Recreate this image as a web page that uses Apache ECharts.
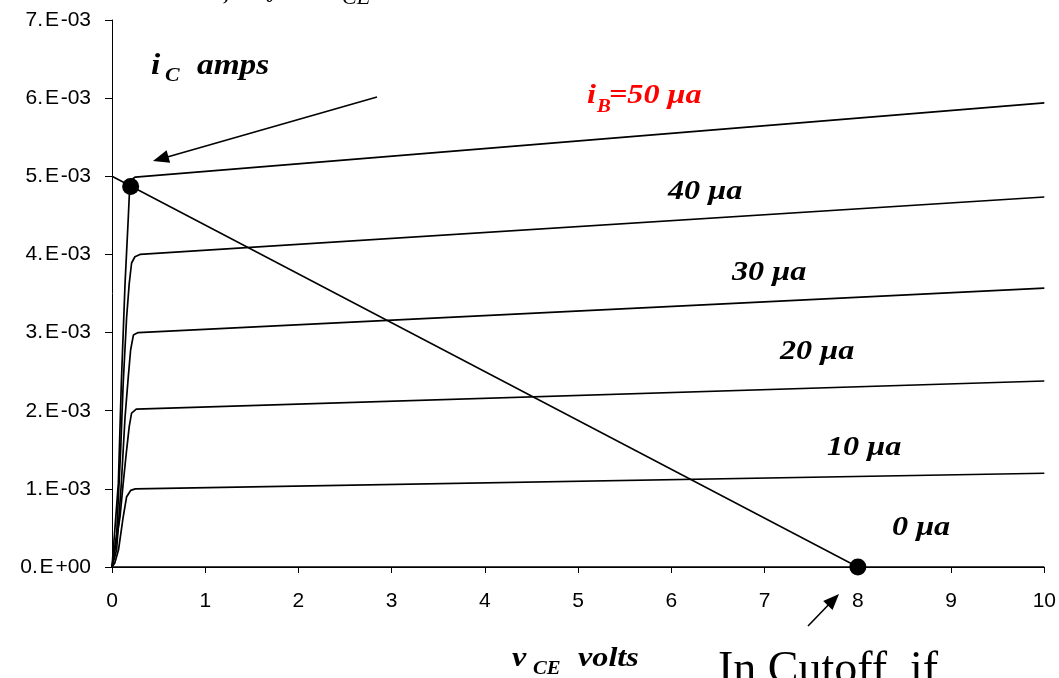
<!DOCTYPE html>
<html>
<head>
<meta charset="utf-8">
<script src="https://cdn.jsdelivr.net/npm/echarts@6/dist/echarts.min.js"></script>
<style>
html,body{margin:0;padding:0;background:#fff;}
#c{width:1059px;height:678px;}
</style>
</head>
<body>
<div id="c"></div>
<script>
// ---- data (vCE volts, iC amps) ----
const yTickLabels = ['0.E+00','1.E-03','2.E-03','3.E-03','4.E-03','5.E-03','6.E-03','7.E-03'];
const ib0  = [[0,0],[10,0]];
const ib10 = [[0,0],[0.03,0.05e-3],[0.07,0.22e-3],[0.12,0.64e-3],[0.157,0.90e-3],[0.2,0.98e-3],[0.25,1.0e-3],[10,1.2e-3]];
const ib20 = [[0,0],[0.032,0.22e-3],[0.086,0.64e-3],[0.12,1.07e-3],[0.157,1.5e-3],[0.185,1.8e-3],[0.21,1.97e-3],[0.26,2.02e-3],[10,2.38e-3]];
const ib30 = [[0,0],[0.05,0.22e-3],[0.1,1.07e-3],[0.14,1.92e-3],[0.175,2.44e-3],[0.2,2.78e-3],[0.23,2.97e-3],[0.28,3.0e-3],[10,3.57e-3]];
const ib40 = [[0,0],[0.05,0.43e-3],[0.093,1.5e-3],[0.12,2.35e-3],[0.157,3.2e-3],[0.185,3.63e-3],[0.21,3.89e-3],[0.246,3.97e-3],[0.3,4.0e-3],[10,4.735e-3]];
const ib50 = [[0,0],[0.014,0.22e-3],[0.068,1.07e-3],[0.1,2.35e-3],[0.14,3.63e-3],[0.175,4.48e-3],[0.19,4.87e-3],[0.2,4.95e-3],[0.25,4.99e-3],[10,5.94e-3]];
const loadLine = [[0,5.0e-3],[8,0]];
const qPoints = [[0.2,4.87e-3],[8,0]];

const SERIF = "'Liberation Serif','Times New Roman',serif";
const SANS = "'Liberation Sans',Arial,sans-serif";

const chart = echarts.init(document.getElementById('c'), null, {renderer:'canvas'});

function txt(s, x, baseline, fs, opts) {
  opts = opts || {};
  return {
    type:'text', silent:true, z:50,
    x:x, y:baseline - 0.33*fs,
    scaleX: opts.sx || 1.15,
    style:{
      text:s, x:0, y:0,
      align:'left', verticalAlign:'middle',
      font:(opts.weight||'bold')+' '+(opts.style||'italic')+' '+fs+'px '+SERIF,
      fill:opts.color||'#000'
    }
  };
}
function arrow(x1,y1,x2,y2){
  const dx=x2-x1, dy=y2-y1, L=Math.sqrt(dx*dx+dy*dy), ux=dx/L, uy=dy/L;
  const hl=16, hw=6.5;
  const bx=x2-ux*hl, by=y2-uy*hl;
  return [
    {type:'line', silent:true, z:40, shape:{x1:x1,y1:y1,x2:bx+ux*2,y2:by+uy*2}, style:{stroke:'#000',lineWidth:1.6}},
    {type:'polygon', silent:true, z:40, shape:{points:[[x2,y2],[bx-uy*hw,by+ux*hw],[bx+uy*hw,by-ux*hw]]}, style:{fill:'#000'}}
  ];
}

function curve(d){
  return {type:'line', data:d, showSymbol:false, silent:true, lineStyle:{color:'#000',width:1.7}, z:3};
}

const graphics = [
  // cut-off text at top
  txt(',', 224, 2, 22, {sx:1}),
  txt('0', 266, 3, 16, {sx:1}),
  txt('CE', 342, 5, 22, {weight:'normal', sx:1}),
  // i_C amps
  txt('i', 151, 76, 29), txt('C', 165, 82, 19), txt('amps', 197, 76, 29),
  // curve labels
  txt('i', 587, 105, 28, {color:'#ff0000'}), txt('B', 597, 113, 18, {color:'#ff0000'}), txt('=50 μa', 609, 105, 28, {color:'#ff0000'}),
  txt('40 μa', 668, 201, 28),
  txt('30 μa', 732, 282, 28),
  txt('20 μa', 780, 361, 28),
  txt('10 μa', 827, 457, 28),
  txt('0 μa', 892, 537, 28),
  // axis title
  txt('v', 512, 668, 28), txt('CE', 533, 675, 18), txt('volts', 578, 668, 28),
  txt('In Cutoff, if', 718, 686, 46, {weight:'normal', style:'normal', sx:1})
].concat(arrow(377,97,153,161)).concat(arrow(808,626,839,594));

chart.setOption({
  animation:false,
  backgroundColor:'#fff',
  grid:{left:112,right:12,top:20,bottom:111,containLabel:false},
  xAxis:{
    type:'value', min:0, max:10, interval:1,
    axisLine:{show:true,onZero:false,lineStyle:{color:'#000',width:1}},
    axisTick:{show:true,length:6,lineStyle:{color:'#000'}},
    axisLabel:{margin:24,fontSize:21,color:'#000',fontFamily:SANS},
    splitLine:{show:false}
  },
  yAxis:{
    type:'value', min:0, max:0.007, interval:0.001,
    axisLine:{show:true,lineStyle:{color:'#000',width:1}},
    axisTick:{show:true,length:7,lineStyle:{color:'#000'}},
    axisLabel:{margin:21,fontSize:21,color:'#000',fontFamily:SANS,
      formatter:function(v){ const s = yTickLabels[Math.round(v*1000)] || ''; return s.replace('.', '.\u200A').replace('E', 'E\u200A'); }},
    splitLine:{show:false}
  },
  series:[
    curve(ib0), curve(ib10), curve(ib20), curve(ib30), curve(ib40), curve(ib50),
    {type:'line', data:loadLine, showSymbol:false, silent:true, lineStyle:{color:'#000',width:1.5}, z:4},
    {type:'scatter', data:qPoints, symbol:'circle', symbolSize:17, itemStyle:{color:'#000',opacity:1}, silent:true, z:5}
  ],
  graphic:graphics
});
</script>
</body>
</html>
